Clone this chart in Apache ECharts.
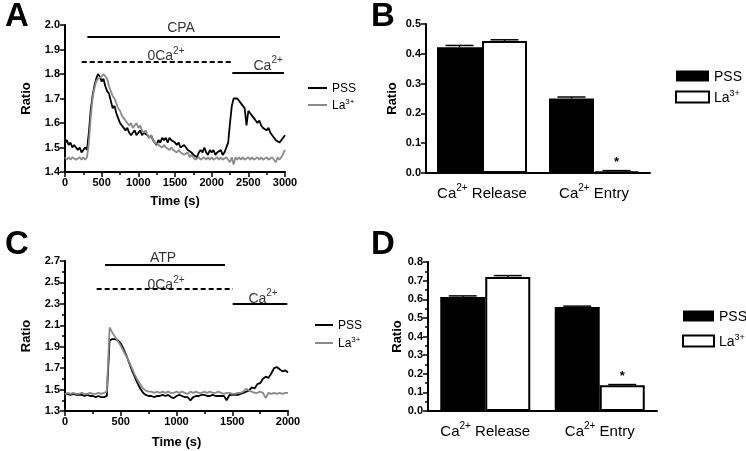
<!DOCTYPE html>
<html><head><meta charset="utf-8">
<script src="https://cdn.jsdelivr.net/npm/echarts@6/dist/echarts.min.js"></script>
<style>html,body{margin:0;padding:0;background:#fff}#c{width:746px;height:451px}</style>
</head><body><div id="c"></div>
<script>
// ---------- DATA ----------
const stepA = 25; // sampling interval (s) for trace A
const pssA = [1.52,1.53,1.51,1.52,1.50,1.51,1.51,1.49,1.50,1.48,1.49,1.50,1.49,
1.56,1.65,1.71,1.75,1.78,1.80,1.79,1.77,1.78,1.75,1.73,1.72,
1.69,1.66,1.67,1.64,1.62,1.60,1.59,1.58,1.57,1.58,1.56,1.55,
1.56,1.57,1.55,1.56,1.57,1.55,1.56,1.56,1.55,1.54,1.55,1.53,
1.52,1.51,1.53,1.52,1.54,1.53,1.54,1.52,1.54,1.53,1.53,1.52,
1.51,1.52,1.50,1.50,1.51,1.50,1.49,1.49,1.48,1.47,1.47,1.46,
1.48,1.49,1.48,1.50,1.48,1.47,1.49,1.48,1.49,1.47,1.48,1.48,
1.49,1.47,1.48,1.48,1.52,1.60,1.67,1.70,1.70,1.70,1.69,1.68,
1.67,1.66,1.59,1.65,1.64,1.63,1.62,1.61,1.60,1.61,1.59,1.58,
1.58,1.57,1.58,1.56,1.55,1.55,1.53,1.53,1.52,1.52,1.54,1.55];
const laA = [1.46,1.45,1.46,1.45,1.46,1.46,1.45,1.45,1.46,1.45,1.46,1.45,1.46,
1.52,1.62,1.70,1.74,1.77,1.78,1.78,1.79,1.80,1.80,1.78,1.75,
1.73,1.71,1.70,1.68,1.66,1.65,1.63,1.62,1.61,1.60,1.59,1.60,
1.58,1.59,1.60,1.58,1.59,1.57,1.56,1.57,1.55,1.54,1.55,1.53,
1.52,1.52,1.51,1.51,1.50,1.51,1.50,1.50,1.49,1.50,1.49,1.49,
1.48,1.49,1.48,1.48,1.47,1.47,1.48,1.46,1.47,1.46,1.45,1.45,
1.46,1.45,1.45,1.46,1.45,1.46,1.45,1.46,1.45,1.45,1.46,1.45,
1.46,1.45,1.45,1.46,1.45,1.44,1.46,1.43,1.46,1.45,1.46,1.45,
1.46,1.45,1.45,1.46,1.45,1.46,1.45,1.45,1.46,1.45,1.46,1.45,
1.45,1.46,1.45,1.45,1.46,1.45,1.44,1.46,1.45,1.46,1.46,1.49];
const stepC = 25;
const pssC = [1.46,1.46,1.45,1.46,1.45,1.45,1.45,1.44,1.45,1.44,1.44,1.43,1.44,
1.43,1.43,1.44,1.96,1.97,1.97,1.96,1.93,1.88,1.82,1.75,1.68,
1.62,1.56,1.51,1.47,1.45,1.44,1.44,1.43,1.44,1.44,1.45,1.44,
1.45,1.43,1.42,1.44,1.45,1.44,1.43,1.43,1.40,1.43,1.44,1.44,
1.45,1.45,1.44,1.44,1.45,1.44,1.44,1.44,1.44,1.40,1.45,1.45,
1.45,1.45,1.46,1.47,1.48,1.49,1.52,1.51,1.55,1.56,1.60,1.62,
1.61,1.65,1.70,1.71,1.69,1.67,1.68,1.66];
const laC = [1.46,1.47,1.46,1.47,1.46,1.46,1.47,1.46,1.46,1.47,1.46,1.46,1.47,
1.46,1.47,1.48,2.08,2.03,1.99,1.95,1.91,1.86,1.81,1.76,1.70,
1.64,1.59,1.55,1.51,1.49,1.48,1.48,1.47,1.48,1.47,1.48,1.47,
1.48,1.47,1.47,1.48,1.47,1.48,1.47,1.46,1.48,1.47,1.48,1.47,
1.47,1.48,1.47,1.48,1.47,1.47,1.48,1.47,1.46,1.47,1.47,1.46,
1.46,1.47,1.47,1.48,1.51,1.49,1.48,1.47,1.47,1.48,1.47,1.42,
1.47,1.46,1.47,1.46,1.47,1.46,1.47,1.47];

const barCats = ['Ca{sup|2+} Release', 'Ca{sup|2+} Entry'];
const pssB = [0.422, 0.250];
const laB  = [0.443, 0.005];
const pssBErr = [0.006, 0.005];
const laBErr  = [0.004, 0.003];
const pssD = [0.612, 0.558];
const laD  = [0.720, 0.138];
const pssDErr = [0.006, 0.005];
const laDErr  = [0.007, 0.004];

const lineNames = ['PSS', 'La3+'];
const barNames = ['PSS ', 'La3+ '];
// annotation bars: [label, tStart, tEnd, level, dashed]
const annA = [['CPA', 305, 2932, 1.951, false], ['0Ca', 228, 2260, 1.850, true], ['Ca', 2282, 2986, 1.807, false]];
const annLabelsA = [['CPA', 1582, 1.988], ['0Ca{sup|2+}', 1377, 1.878], ['Ca{sup|2+}', 2770, 1.840]];
const annC = [['ATP', 359, 1435, 2.669, false], ['0Ca', 284, 1507, 2.444, true], ['Ca', 1504, 1994, 2.298, false]];
const annLabelsC = [['ATP', 879, 2.728], ['0Ca{sup|2+}', 906, 2.485], ['Ca{sup|2+}', 1776, 2.362]];

// ---------- BUILD ----------
const FF = 'Arial, "Liberation Sans", Helvetica, sans-serif';
const pairs = (arr, step) => arr.map((v, i) => [i * step, v]);
const supRich = (fs) => ({
  b: {fontSize: fs, fontFamily: FF, color: '#000', verticalAlign: 'bottom'},
  sup: {fontSize: Math.round(fs * 0.68), fontFamily: FF, color: '#000', verticalAlign: 'bottom', padding: [0, 0, Math.round(fs * 0.5), 0]}
});
const wrapRich = (s) => s.split(/(\{sup\|[^}]*\})/).map(p => p.startsWith('{sup|') ? p : (p ? '{b|' + p + '}' : '')).join('');

const axisLine = {show: true, lineStyle: {color: '#000', width: 2}};
const tickLbl = {fontFamily: FF, fontWeight: 'bold', fontSize: 11, color: '#000'};
const nameStyle = {fontFamily: FF, fontWeight: 'bold', fontSize: 13, color: '#000'};

function valAxisX(gi, max, name, gap) {
  return {type: 'value', gridIndex: gi, min: 0, max: max, interval: 500,
    axisLine: axisLine, axisTick: {show: true, length: 5, lineStyle: {color: '#000', width: 1.5}},
    minorTick: {show: true, splitNumber: 2, length: 3, lineStyle: {color: '#000', width: 1.5}},
    splitLine: {show: false}, axisLabel: Object.assign({margin: 5, formatter: v => String(v)}, tickLbl),
    name: name, nameLocation: 'middle', nameGap: gap, nameTextStyle: nameStyle};
}
function valAxisY(gi, min, max, interval, minor, nameGap) {
  return {type: 'value', gridIndex: gi, min: min, max: max, interval: interval,
    axisLine: axisLine, axisTick: {show: true, length: 5, lineStyle: {color: '#000', width: 1.5}},
    minorTick: {show: minor, splitNumber: 2, length: 3, lineStyle: {color: '#000', width: 1.5}},
    splitLine: {show: false},
    axisLabel: Object.assign({margin: 5, formatter: v => v.toFixed(1)}, tickLbl),
    name: 'Ratio', nameLocation: 'middle', nameGap: nameGap, nameRotate: 90, nameTextStyle: nameStyle};
}
function catAxis(gi) {
  return {type: 'category', gridIndex: gi, data: barCats, axisLine: axisLine,
    axisTick: {show: false},
    axisLabel: {margin: 10, interval: 0, formatter: v => wrapRich(v), rich: supRich(15)}};
}

function annSeries(gi, ann, lbls) {
  return [{type: 'line', xAxisIndex: gi, yAxisIndex: gi, data: [], silent: true,
    markLine: {silent: true, symbol: ['none', 'none'], animation: false,
      label: {show: false},
      data: ann.map(a => [{coord: [a[1], a[3]], lineStyle: {color: '#000', width: 2, type: a[4] ? [5, 3] : 'solid'}},
                          {coord: [a[2], a[3]]}])}},
    {type: 'scatter', xAxisIndex: gi, yAxisIndex: gi, silent: true, clip: false, animation: false,
      symbolSize: 0, itemStyle: {color: 'rgba(0,0,0,0)'},
      label: {show: true, position: 'inside', formatter: p => wrapRich(p.value[2]), rich: supRich(14)},
      data: lbls.map(l => [l[1], l[2], l[0]])}];
}

function lineSeries(gi, name, data, color) {
  return {type: 'line', name: name, xAxisIndex: gi, yAxisIndex: gi, data: data,
    showSymbol: false, symbol: 'none', animation: false,
    lineStyle: {color: color, width: 1.8}, itemStyle: {color: color}};
}

function barSeries(gi, name, vals, white, starIdx) {
  return {type: 'bar', name: name, xAxisIndex: gi, yAxisIndex: gi, animation: false,
    barWidth: 45, barGap: '0%',
    itemStyle: white ? {color: '#fff', borderColor: '#000', borderWidth: 2} : {color: '#000', borderColor: '#000', borderWidth: 0},
    data: vals.map((v, i) => i === starIdx ? {value: v, label: {show: true, position: 'top', distance: 2, formatter: '*',
      fontFamily: FF, fontSize: 13, fontWeight: 'bold', color: '#000'}} : v)};
}

function errSeries(gi, vals, errs, side) {
  return {type: 'custom', xAxisIndex: gi, yAxisIndex: gi, animation: false, silent: true, z: 5,
    data: vals.map((v, i) => [i, v, errs[i]]),
    renderItem: (params, api) => {
      const c = api.coord([api.value(0), api.value(1)]);
      const t = api.coord([api.value(0), api.value(1) + api.value(2)]);
      const x = c[0] + side * 22.5;
      return {type: 'group', children: [
        {type: 'line', shape: {x1: x, y1: c[1], x2: x, y2: t[1]}, style: {stroke: '#000', lineWidth: 1.5}},
        {type: 'line', shape: {x1: x - 14, y1: t[1], x2: x + 14, y2: t[1]}, style: {stroke: '#000', lineWidth: 1.5}}]};
    }};
}

const legRich = {b: {fontSize: 12, fontFamily: FF, color: '#000', verticalAlign: 'bottom'},
  sup: {fontSize: 8, fontFamily: FF, color: '#000', verticalAlign: 'bottom', padding: [0, 0, 6, 0]}};
const legRich2 = {b: {fontSize: 14, fontFamily: FF, color: '#000', verticalAlign: 'bottom'},
  sup: {fontSize: 9, fontFamily: FF, color: '#000', verticalAlign: 'bottom', padding: [0, 0, 7, 0]}};
const legFmt = n => n.trim() === 'La3+' ? '{b|La}{sup|3+}' : '{b|' + n.trim() + '}';

const option = {
  backgroundColor: '#fff',
  textStyle: {fontFamily: FF},
  grid: [
    {left: 65, top: 25, width: 220, height: 147},
    {left: 426, top: 24, width: 224, height: 149},
    {left: 65, top: 261, width: 223, height: 150},
    {left: 428, top: 262, width: 229, height: 149}
  ],
  xAxis: [valAxisX(0, 3000, 'Time (s)', 23), catAxis(1), valAxisX(2, 2000, 'Time (s)', 25), catAxis(3)],
  yAxis: [valAxisY(0, 1.4, 2.0, 0.1, false, 32), valAxisY(1, 0, 0.5, 0.1, false, 27),
          valAxisY(2, 1.3, 2.7, 0.2, true, 32), valAxisY(3, 0, 0.8, 0.1, true, 23)],
  legend: [
    {left: 303, top: 76, orient: 'vertical', itemWidth: 19, itemHeight: 2, itemGap: 3, icon: 'rect',
      data: lineNames.map(n => ({name: n})), formatter: legFmt,
      textStyle: {rich: legRich, lineHeight: 14}, selectedMode: false},
    {left: 310, top: 313, orient: 'vertical', itemWidth: 18, itemHeight: 2, itemGap: 4, icon: 'rect',
      data: lineNames.map(n => ({name: n})), formatter: legFmt,
      textStyle: {rich: legRich, lineHeight: 14}, selectedMode: false},
    {left: 670, top: 63, orient: 'vertical', itemWidth: 33, itemHeight: 11, itemGap: 5,
      data: barNames.map(n => ({name: n, icon: 'rect'})), formatter: legFmt,
      textStyle: {rich: legRich2, lineHeight: 16}, selectedMode: false},
    {left: 677, top: 303, orient: 'vertical', itemWidth: 31, itemHeight: 11, itemGap: 9,
      data: barNames.map(n => ({name: n, icon: 'rect'})), formatter: legFmt,
      textStyle: {rich: legRich2, lineHeight: 16}, selectedMode: false}
  ],
  graphic: [
    {type: 'text', left: 5, top: 0, style: {text: 'A', font: 'bold 33px ' + FF, fill: '#000'}},
    {type: 'text', left: 371, top: 0, style: {text: 'B', font: 'bold 33px ' + FF, fill: '#000'}},
    {type: 'text', left: 5, top: 228, style: {text: 'C', font: 'bold 33px ' + FF, fill: '#000'}},
    {type: 'text', left: 371, top: 228, style: {text: 'D', font: 'bold 33px ' + FF, fill: '#000'}}
  ],
  series: [
    lineSeries(0, 'PSS', pairs(pssA, stepA), '#000'),
    lineSeries(0, 'La3+', pairs(laA, stepA), '#8a8a8a'),
    ...annSeries(0, annA, annLabelsA),
    lineSeries(2, 'PSS', pairs(pssC, stepC), '#000'),
    lineSeries(2, 'La3+', pairs(laC, stepC), '#8a8a8a'),
    ...annSeries(2, annC, annLabelsC),
    barSeries(1, 'PSS ', pssB, false, -1),
    barSeries(1, 'La3+ ', laB, true, 1),
    errSeries(1, pssB, pssBErr, -1),
    errSeries(1, laB, laBErr, 1),
    barSeries(3, 'PSS ', pssD, false, -1),
    barSeries(3, 'La3+ ', laD, true, 1),
    errSeries(3, pssD, pssDErr, -1),
    errSeries(3, laD, laDErr, 1)
  ]
};
const chart = echarts.init(document.getElementById('c'), null, {renderer: 'canvas'});
chart.setOption(option);
</script></body></html>
